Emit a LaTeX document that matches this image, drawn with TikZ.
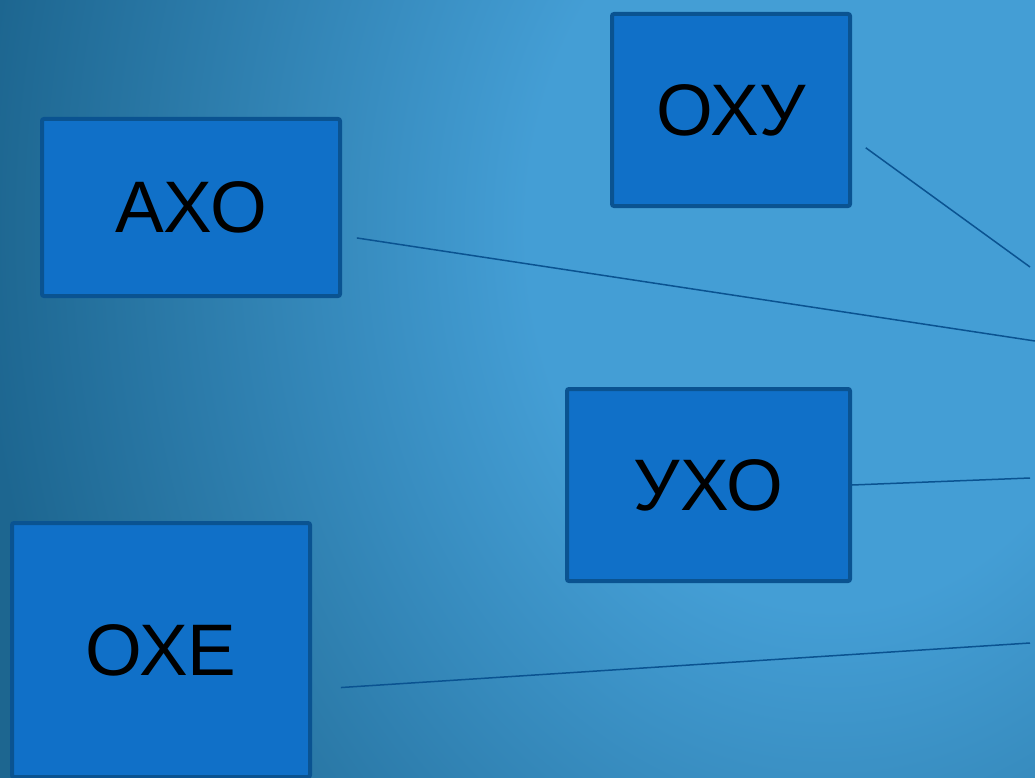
\documentclass[tikz,border=0pt]{standalone}
\usepackage{fontspec}
\setmainfont{Liberation Sans}
\definecolor{bglight}{HTML}{449ED5}
\definecolor{bgdark}{HTML}{1D6690}
\definecolor{boxfill}{HTML}{1070C8}
\definecolor{boxline}{HTML}{0A5391}
\pgfdeclareradialshading{bgshade}{\pgfpoint{0bp}{0bp}}{color(0bp)=(bglight); color(4.2bp)=(bglight); color(11.8bp)=(bgdark); color(50bp)=(bgdark)}
\tikzset{
  wordbox/.style={draw=boxline, fill=boxfill, line width=4pt, rounded corners=2pt,
    inner sep=0pt, font=\fontsize{73}{80}\selectfont, text=black},
  link/.style={draw=boxline, line width=1.5pt}
}
\begin{document}
\begin{tikzpicture}[x=1pt,y=-1pt]
\useasboundingbox (0,0) rectangle (1035,778);
\begin{scope}
\clip (0,0) rectangle (1035,778);
\fill[bgdark] (0,0) rectangle (1035,778);
\shade[shading=bgshade] (830,230) ellipse[x radius=1800pt, y radius=2250pt];
\end{scope}
\node[wordbox, minimum width=238pt, minimum height=192pt] (oxu) at (731,110) {ОХУ};
\node[wordbox, minimum width=298pt, minimum height=177pt] (axo) at (191,207.5) {АХО};
\node[wordbox, minimum width=283pt, minimum height=192pt] (uxo) at (708.5,485) {УХО};
\node[wordbox, minimum width=298pt, minimum height=254pt] (oxe) at (161,650) {ОХЕ};
\coordinate (e1) at (1030,267);
\coordinate (e2) at (1035,341);
\coordinate (e3) at (1030,478);
\coordinate (e4) at (1030,643);
\draw[link, shorten <=17pt] ([yshift=-27.8pt]oxu.east) -- (e1);
\draw[link, shorten <=15pt] ([yshift=-28.2pt]axo.east) -- (e2);
\draw[link] (uxo.east) -- (e3);
\draw[link, shorten <=29pt] ([yshift=-39.4pt]oxe.east) -- (e4);
\end{tikzpicture}
\end{document}
